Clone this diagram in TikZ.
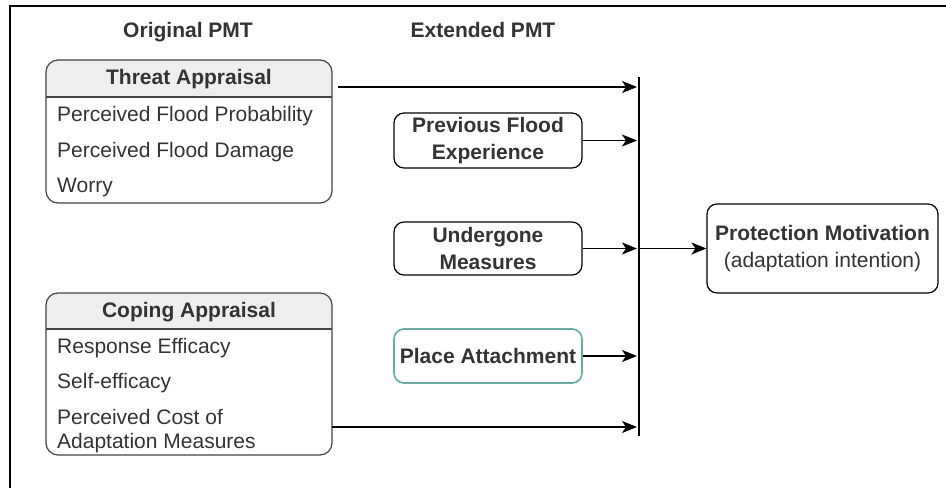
\documentclass[tikz,border=0pt]{standalone}
\usepackage{fontspec}
\setmainfont{Liberation Sans}
\usetikzlibrary{arrows.meta}
\definecolor{txt}{HTML}{333333}
\definecolor{hdr}{HTML}{EEEEEE}
\definecolor{tealc}{HTML}{67AB9F}
\definecolor{edgec}{HTML}{444444}
\tikzset{
  cbox/.style={draw=edgec, line width=1.2pt, rounded corners=12pt, inner sep=0pt},
  sbox/.style={draw=black, line width=1.2pt, rounded corners=10pt, inner sep=0pt, align=center},
  item/.style={anchor=base west, inner sep=0pt},
  hd/.style={anchor=base, inner sep=0pt, font=\fontsize{21}{27}\selectfont\bfseries},
  arr/.style={line width=1.3pt, -{Stealth[length=15pt,width=12pt,inset=4pt]}},
}
\begin{document}
\begin{tikzpicture}[x=1pt,y=-1pt, font=\fontsize{21}{27}\selectfont, text=txt]
\useasboundingbox (0,0) rectangle (946,488);
% frame
\draw[line width=1.4pt] (10,488) -- (10,6) -- (946,6);

% column titles
\node[hd] (orig) at (188,37) {Original PMT};
\node[hd] (ext) at (483,37) {Extended PMT};

% Threat appraisal
\begin{scope}
  \clip[rounded corners=12pt] (46,60) rectangle (332,203);
  \fill[hdr] (46,60) rectangle (332,97);
\end{scope}
\node[cbox, minimum width=286pt, minimum height=143pt] (ta) at (189,131.5) {};
\draw[edgec, line width=1.2pt] (46,97) -- (332,97);
\node[hd] (tah) at (189,84) {Threat Appraisal};
\node[item] (ta1) at (57,121) {Perceived Flood Probability};
\node[item] (ta2) at (57,157) {Perceived Flood Damage};
\node[item] (ta3) at (57,192) {Worry};

% Coping appraisal
\begin{scope}
  \clip[rounded corners=12pt] (46,293) rectangle (332,455);
  \fill[hdr] (46,293) rectangle (332,329);
\end{scope}
\node[cbox, minimum width=286pt, minimum height=162pt] (ca) at (189,374) {};
\draw[edgec, line width=1.2pt] (46,329) -- (332,329);
\node[hd] (cah) at (189,317) {Coping Appraisal};
\node[item] (ca1) at (57,353) {Response Efficacy};
\node[item] (ca2) at (57,388) {Self-efficacy};
\node[item] (ca3) at (57,424) {Perceived Cost of};
\node[item] (ca4) at (57,448) {Adaptation Measures};

% Extended boxes
\node[sbox, minimum width=188pt, minimum height=55pt, font=\fontsize{21}{27}\selectfont\bfseries] (pf) at (488,140.5) {Previous Flood\\Experience};
\node[sbox, minimum width=188pt, minimum height=53pt, font=\fontsize{21}{27}\selectfont\bfseries] (um) at (488,248.5) {Undergone\\Measures};
\node[sbox, draw=tealc, line width=1.6pt, minimum width=188pt, minimum height=54pt, font=\fontsize{21}{27}\selectfont\bfseries] (pa) at (488,356) {Place Attachment};

% Protection motivation
\node[sbox, minimum width=231pt, minimum height=89pt] (pm) at (822.5,248.5) {\textbf{Protection Motivation}\\(adaptation intention)};

% bus line
\coordinate (bt) at (639,77);
\coordinate (bb) at (639,436);
\draw[line width=1.3pt] (bt) -- (bb);
\coordinate (bx) at (637,0);
\coordinate (t1) at (338,87);
\coordinate (c1) at (332,427);

% arrows
\draw[arr] (t1) -- (t1 -| bx);
\draw[arr] (pf.east) -- (pf.east -| bx);
\draw[arr] (um.east) -- (um.east -| bx);
\draw[arr] (pa.east) -- (pa.east -| bx);
\draw[arr] (c1) -- (c1 -| bx);
\draw[arr] (um.east -| bt) -- (pm.west);
\end{tikzpicture}
\end{document}
